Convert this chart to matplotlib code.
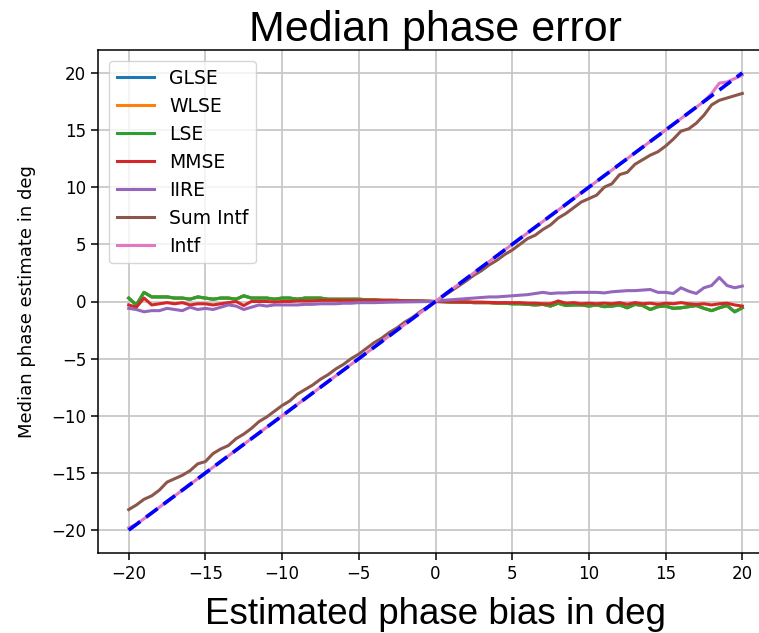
import numpy as np
import matplotlib
matplotlib.use("Agg")
import matplotlib.pyplot as plt

# Phase bias sweep (deg)
bias = [-20.0, -19.5, -19.0, -18.5, -18.0, -17.5, -17.0, -16.5, -16.0, -15.5,
        -15.0, -14.5, -14.0, -13.5, -13.0, -12.5, -12.0, -11.5, -11.0, -10.5,
        -10.0, -9.5, -9.0, -8.5, -8.0, -7.5, -7.0, -6.5, -6.0, -5.5,
        -5.0, -4.5, -4.0, -3.5, -3.0, -2.5, -2.0, -1.5, -1.0, -0.5,
        0.0, 0.5, 1.0, 1.5, 2.0, 2.5, 3.0, 3.5, 4.0, 4.5,
        5.0, 5.5, 6.0, 6.5, 7.0, 7.5, 8.0, 8.5, 9.0, 9.5,
        10.0, 10.5, 11.0, 11.5, 12.0, 12.5, 13.0, 13.5, 14.0, 14.5,
        15.0, 15.5, 16.0, 16.5, 17.0, 17.5, 18.0, 18.5, 19.0, 19.5, 20.0]

lse = [0.3, -0.3, 0.8, 0.4, 0.4, 0.4, 0.3, 0.3, 0.2, 0.4,
       0.3, 0.2, 0.3, 0.3, 0.2, 0.5, 0.3, 0.3, 0.3, 0.2,
       0.3, 0.3, 0.2, 0.3, 0.3, 0.3, 0.2, 0.2, 0.2, 0.2,
       0.2, 0.15, 0.15, 0.1, 0.1, 0.1, 0.05, 0.05, 0.05, 0.02,
       0.0, -0.02, -0.05, -0.05, -0.05, -0.1, -0.1, -0.1, -0.15, -0.15,
       -0.2, -0.2, -0.25, -0.3, -0.25, -0.4, -0.15, -0.35, -0.3, -0.3,
       -0.4, -0.3, -0.45, -0.4, -0.3, -0.55, -0.25, -0.35, -0.7, -0.45,
       -0.4, -0.6, -0.55, -0.45, -0.35, -0.6, -0.8, -0.55, -0.35, -0.9, -0.55]

# GLSE and WLSE coincide with LSE
glse = list(lse)
wlse = list(lse)

mmse = [-0.3, -0.5, 0.3, -0.3, -0.2, -0.1, -0.2, -0.1, -0.3, -0.2,
        -0.2, -0.3, -0.2, -0.1, 0.0, -0.35, 0.0, 0.0, 0.0, -0.05,
        0.0, 0.0, 0.05, 0.05, 0.05, 0.1, 0.1, 0.1, 0.1, 0.1,
        0.1, 0.1, 0.1, 0.1, 0.1, 0.08, 0.06, 0.05, 0.03, 0.02,
        0.0, 0.0, -0.02, -0.03, -0.05, -0.05, -0.05, -0.08, -0.1, -0.1,
        -0.1, -0.1, -0.15, -0.15, -0.2, -0.2, 0.05, -0.15, -0.1, -0.2,
        -0.15, -0.2, -0.15, -0.2, -0.1, -0.25, -0.1, -0.2, -0.15, -0.25,
        -0.15, -0.2, -0.1, -0.2, -0.25, -0.2, -0.3, -0.2, -0.15, -0.3, -0.4]

iire = [-0.6, -0.7, -0.9, -0.8, -0.8, -0.6, -0.7, -0.8, -0.5, -0.7,
        -0.6, -0.7, -0.5, -0.3, -0.4, -0.7, -0.5, -0.3, -0.4, -0.3,
        -0.3, -0.3, -0.3, -0.25, -0.25, -0.2, -0.2, -0.2, -0.15, -0.15,
        -0.1, -0.1, -0.1, -0.08, -0.06, -0.05, -0.04, -0.03, -0.02, -0.01,
        0.0, 0.1, 0.15, 0.2, 0.25, 0.3, 0.35, 0.4, 0.4, 0.45,
        0.5, 0.55, 0.6, 0.7, 0.8, 0.7, 0.75, 0.75, 0.8, 0.8,
        0.8, 0.8, 0.75, 0.85, 0.9, 0.95, 0.95, 1.0, 1.05, 0.8,
        0.8, 0.7, 1.2, 0.9, 0.7, 1.2, 1.4, 2.1, 1.4, 1.2, 1.35]

sum_intf = [-18.2, -17.8, -17.3, -17.0, -16.5, -15.8, -15.5, -15.2, -14.8, -14.2,
            -14.0, -13.3, -12.9, -12.6, -12.0, -11.6, -11.1, -10.5, -10.1, -9.6,
            -9.1, -8.7, -8.1, -7.7, -7.3, -6.8, -6.4, -5.9, -5.5, -5.0,
            -4.6, -4.1, -3.6, -3.2, -2.7, -2.3, -1.8, -1.4, -0.9, -0.45,
            0.0, 0.45, 0.9, 1.35, 1.8, 2.3, 2.7, 3.2, 3.6, 4.1,
            4.5, 5.0, 5.5, 5.8, 6.3, 6.7, 7.3, 7.7, 8.2, 8.7,
            9.0, 9.3, 10.0, 10.3, 11.1, 11.3, 12.0, 12.4, 12.8, 13.1,
            13.6, 14.2, 14.9, 15.1, 15.6, 16.3, 17.2, 17.6, 17.8, 18.0, 18.2]

intf = [-19.8, -19.5, -19.0, -18.5, -18.0, -17.5, -17.0, -16.5, -16.0, -15.5,
        -15.0, -14.5, -14.0, -13.5, -13.0, -12.5, -12.0, -11.5, -11.0, -10.5,
        -10.0, -9.5, -9.0, -8.5, -8.0, -7.5, -7.0, -6.5, -6.0, -5.5,
        -5.0, -4.5, -4.0, -3.5, -3.0, -2.5, -2.0, -1.5, -1.0, -0.5,
        0.0, 0.5, 1.0, 1.5, 2.0, 2.5, 3.0, 3.5, 4.0, 4.5,
        5.0, 5.5, 6.0, 6.5, 7.0, 7.5, 8.0, 8.5, 9.0, 9.5,
        10.0, 10.5, 11.0, 11.5, 12.0, 12.5, 13.0, 13.5, 14.0, 14.5,
        15.0, 15.5, 16.0, 16.5, 17.0, 17.5, 18.2, 19.1, 19.2, 19.5, 19.8]

series = [("GLSE", glse, "tab:blue"),
          ("WLSE", wlse, "tab:orange"),
          ("LSE", lse, "tab:green"),
          ("MMSE", mmse, "tab:red"),
          ("IIRE", iire, "tab:purple"),
          ("Sum Intf", sum_intf, "tab:brown"),
          ("Intf", intf, "tab:pink")]

tick_vals = [-20, -15, -10, -5, 0, 5, 10, 15, 20]
tick_text = ["\u221220", "\u221215", "\u221210", "\u22125", "0", "5", "10", "15", "20"]

fig = plt.figure(figsize=(7.59, 6.33), dpi=100)
ax = fig.add_axes([98 / 759, 1 - 553 / 633, 675 / 759, 503 / 633])

for name, vals, col in series:
    ax.plot(bias, vals, color=col, lw=2.2, label=name)

# ideal estimate: estimate equals the applied bias
ax.plot(bias, bias, "b--", lw=2.6, dashes=(4, 2))

ax.set_xlim(-22, 22)
ax.set_ylim(-22, 22)
ax.set_xticks(tick_vals)
ax.set_yticks(tick_vals)
ax.set_xticklabels(tick_text)
ax.set_yticklabels(tick_text)
ax.grid(True, color="#c8c8c8", lw=1.3)
ax.tick_params(labelsize=12, width=1.1, length=5)
for sp in ax.spines.values():
    sp.set_linewidth(1.1)

ax.set_ylabel("Median phase estimate in deg", fontsize=13, labelpad=11)
ax.set_xlabel("Estimated phase bias in deg", fontsize=26.5,
              family="Liberation Sans", labelpad=10)
ax.set_title("Median phase error", fontsize=31, family="Liberation Sans", pad=5)

ax.legend(loc="upper left", fontsize=13.5, handlelength=2.0,
          labelspacing=0.48, borderaxespad=0.6)

fig.savefig("out.png", dpi=100)
